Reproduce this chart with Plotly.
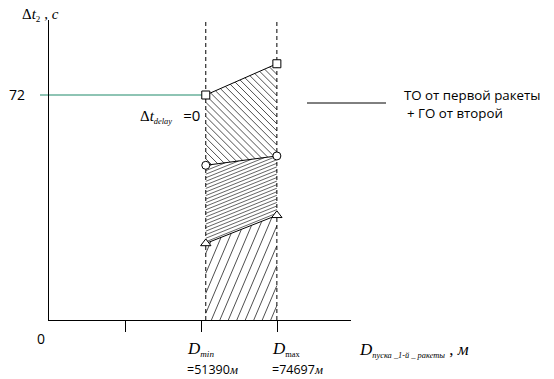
import numpy as np
import plotly.graph_objects as go

# ---------------- data ----------------
D_launch = [51390, 74697]          # m : D_min, D_max
dt_square = [72, 82]               # s : upper boundary (TO of 1st + GO of 2nd)
dt_circle = [49.5, 52.5]           # s : middle boundary
dt_triangle = [24.5, 33.5]         # s : lower boundary
dt_level = 72                      # s : horizontal reference level
x_tick_vals = [25000, 50000, 75000]
legend_lines = ["ТО от первой ракеты", "+ ГО от второй"]

# ---------------- geometry ----------------
W, H = 554, 379
X0P, X1P, Y0P, Y1P = 49, 351, 320, 20
XR = (0, 99000)
YR = (0, 96)

def px(x):
    return X0P + (x - XR[0]) / (XR[1] - XR[0]) * (X1P - X0P)

def py(y):
    return Y0P - (y - YR[0]) / (YR[1] - YR[0]) * (Y0P - Y1P)

def dx(p):
    return XR[0] + (p - X0P) / (X1P - X0P) * (XR[1] - XR[0])

def dy(p):
    return YR[0] + (Y0P - p) / (Y0P - Y1P) * (YR[1] - YR[0])

def hatch(poly_data, angle_deg, spacing):
    """Clip a family of parallel lines (screen angle, y down) to a convex polygon."""
    P = np.array([[px(x), py(y)] for x, y in poly_data])
    a = np.radians(angle_deg)
    d = np.array([np.cos(a), np.sin(a)])
    n = np.array([-np.sin(a), np.cos(a)])
    proj = P @ n
    xs, ys = [], []
    c = proj.min() + spacing / 2
    while c < proj.max():
        pts = []
        for i in range(len(P)):
            p0, p1 = P[i], P[(i + 1) % len(P)]
            f0, f1 = p0 @ n - c, p1 @ n - c
            if (f0 <= 0 < f1) or (f1 <= 0 < f0):
                t = f0 / (f0 - f1)
                pts.append(p0 + t * (p1 - p0))
        if len(pts) >= 2:
            pts.sort(key=lambda q: q @ d)
            q0, q1 = pts[0], pts[-1]
            xs += [dx(q0[0]), dx(q1[0]), None]
            ys += [dy(q0[1]), dy(q1[1]), None]
        c += spacing
    return xs, ys

fig = go.Figure()

x0, x1 = D_launch
regions = [
    ([(x0, dt_circle[0]), (x0, dt_square[0]), (x1, dt_square[1]), (x1, dt_circle[1])], 45, 5.0, 0.8),
    ([(x0, dt_triangle[0]), (x0, dt_circle[0]), (x1, dt_circle[1]), (x1, dt_triangle[1])], -22, 3.3, 0.7),
    ([(x0, 0), (x0, dt_triangle[0]), (x1, dt_triangle[1]), (x1, 0)], -67, 7.8, 0.8),
]
for poly, ang, sp, lw in regions:
    hx, hy = hatch(poly, ang, sp)
    fig.add_trace(go.Scatter(x=hx, y=hy, mode="lines",
                             line=dict(color="#222222", width=lw),
                             hoverinfo="skip", showlegend=False))

# dashed verticals
for xv in D_launch:
    fig.add_trace(go.Scatter(x=[xv, xv], y=[YR[0], YR[1]], mode="lines",
                             line=dict(color="black", width=1, dash="4px,3px"),
                             hoverinfo="skip", showlegend=False))

# boundary lines with markers
for vals, sym, size in [(dt_square, "square", 8), (dt_circle, "circle", 8), (dt_triangle, "triangle-up", 9)]:
    fig.add_trace(go.Scatter(x=D_launch, y=vals, mode="lines+markers",
                             line=dict(color="black", width=1),
                             marker=dict(symbol=sym, size=size, color="white",
                                         line=dict(color="black", width=1)),
                             cliponaxis=False, showlegend=False))

def paper_x(p):
    return (p - X0P) / (X1P - X0P)

def paper_y(p):
    return (Y0P - p) / (Y0P - Y1P)

shapes = [
    # green reference line at 72 s (starts left of the axis)
    dict(type="line", xref="paper", yref="y",
         x0=paper_x(40), x1=paper_x(px(D_launch[0])), y0=dt_level, y1=dt_level,
         line=dict(color="#1f8a6a", width=1.2), layer="below"),
    # legend sample line
    dict(type="line", xref="paper", yref="paper",
         x0=paper_x(307), x1=paper_x(386), y0=paper_y(103), y1=paper_y(103),
         line=dict(color="black", width=1)),
]

SERIF = "Liberation Serif"
SANS = "Open Sans"

def ann(text, xp, yp, size=13, family=SANS, xanchor="left", color="black"):
    return dict(text=text, x=paper_x(xp), y=paper_y(yp), xref="paper", yref="paper",
                xanchor=xanchor, yanchor="middle", showarrow=False,
                font=dict(family=family, size=size, color=color))

def sub(text, size):
    return "<span style='font-size:%dpx'><sub>%s</sub></span>" % (size, text)

sans_span = "<span style='font-family:Open Sans'>%s</span>"
annotations = [
    ann("Δ<i>t</i>" + sub("2", 13) + " , <i>c</i>", 20, 15, size=15, family=SERIF),
    ann(str(dt_level), 17, 94, size=14, xanchor="center"),
    ann("0", 41, 338, size=14, xanchor="center"),
    ann("Δ<i>t</i>" + sub("<i>delay</i>", 12) + "   " + sans_span % "=0",
        138, 115, size=15, family=SERIF),
    ann("<i>D</i>" + sub("<i>min</i>", 13), 185, 349, size=17, family=SERIF),
    ann(sans_span % ("=" + str(D_launch[0])) + "<i>м</i>", 185, 369, size=12.5, family=SERIF),
    ann("<i>D</i>" + sub("max", 12), 270, 349, size=17, family=SERIF),
    ann(sans_span % ("=" + str(D_launch[1])) + "<i>м</i>", 270, 369, size=12.5, family=SERIF),
    ann("<i>D</i>" + sub("<i>пуска _1-й _ ракеты</i>", 12) + " , <i>м</i>",
        357, 350, size=17, family=SERIF),
    ann(legend_lines[0], 402, 95, size=13.3),
    ann(legend_lines[1], 405, 113, size=13.3),
]

fig.update_layout(
    width=W, height=H, autosize=False,
    margin=dict(l=X0P, r=W - X1P, t=Y1P, b=H - Y0P, pad=0),
    paper_bgcolor="white", plot_bgcolor="white",
    showlegend=False,
    shapes=shapes, annotations=annotations,
    xaxis=dict(range=list(XR), showline=True, linecolor="black", linewidth=1,
               ticks="outside", ticklen=11, tickcolor="black", tickwidth=1,
               tickvals=x_tick_vals, showticklabels=False,
               showgrid=False, zeroline=False, fixedrange=True),
    yaxis=dict(range=list(YR), showline=True, linecolor="black", linewidth=1,
               ticks="", showticklabels=False, showgrid=False, zeroline=False,
               fixedrange=True),
)

fig.write_html("out.html", config={"displayModeBar": False},
               post_script="document.body.style.margin='0';document.body.style.overflow='hidden';")
